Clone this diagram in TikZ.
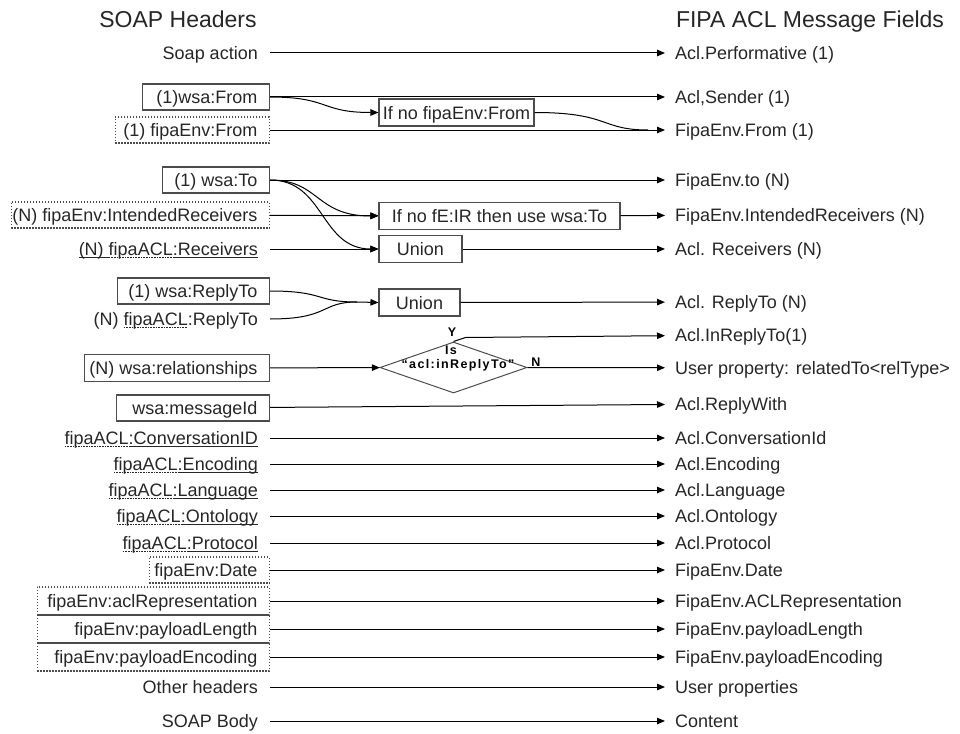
\documentclass[tikz,border=0pt]{standalone}
\usepackage{fontspec}
\setmainfont{Liberation Sans}
\newfontfamily\tagfont[LetterSpace=11]{Liberation Sans}
\usetikzlibrary{arrows.meta,shapes.geometric}

% solid and dashed underlines for linked header names
\newcommand\solidul[1]{\setbox0=\hbox{#1}\rlap{\raisebox{-2.6pt}{\rule{\wd0}{0.8pt}}}\box0}
\newcommand\dashul[1]{\setbox0=\hbox{#1}\rlap{\raisebox{-2.6pt}{\hbox to \wd0{\xleaders\hbox{\rule{1.6pt}{0.8pt}\kern1pt}\hfil}}}\box0}
% right-aligned label inside a box of fixed inner width
\newcommand\rightin[2]{\makebox[#1][r]{#2}}

\tikzset{
  lbl/.style={font=\fontsize{18}{20}\selectfont, text=black!85,
    text height=13pt, text depth=0pt, inner ysep=0pt, minimum height=26pt},
  lnode/.style={lbl, anchor=east, inner xsep=12pt},
  lbox/.style={lnode, draw=black!70, line width=1.1pt},
  ldot/.style={lbox, dash pattern=on 1.4pt off 1.6pt},
  rnode/.style={lbl, anchor=west, inner xsep=10pt},
  mbox/.style={lbl, draw=black!70, line width=1.1pt, inner xsep=4pt, minimum height=27pt},
  decision/.style={draw=black!70, line width=1pt, shape=diamond,
    minimum width=147pt, minimum height=51pt, inner sep=0pt},
  conn/.style={draw=black, line width=1pt},
  arr/.style={conn, -{Triangle[length=8pt,width=6.5pt]}},
  heading/.style={font=\fontsize{23}{26}\selectfont, text=black!85,
    text height=16pt, text depth=0pt, inner sep=0pt},
  tag/.style={font=\tagfont\bfseries\fontsize{12.5}{13}\selectfont, text=black,
    text height=9pt, text depth=0pt, inner sep=0pt},
}

\begin{document}
\begin{tikzpicture}[x=1pt,y=-1pt]
\useasboundingbox (0,0) rectangle (960,733);

% column headings
\node[heading] (hl) at (178,19.5) {SOAP Headers};
\node[heading] (hr) at (810,19.5) {FIPA ACL Message Fields};

% SOAP header side
\node[lnode] (sact)  at (270,53)  {Soap action};
\node[lbox] (wfrom) at (270,97) {\rightin{103pt}{(1)wsa:From}};
\node[ldot] (efrom) at (270,130) {\rightin{130pt}{(1) fipaEnv:From}};
\node[lbox] (wto) at (270,180) {\rightin{83pt}{(1) wsa:To}};
\node[ldot] (eir) at (270,215) {\rightin{234pt}{(N) fipaEnv:IntendedReceivers}};
\node[lnode] (arec) at (270,249) {\solidul{(N)\ }\dashul{fipaACL}\solidul{:Receivers}};
\node[lbox] (wreply) at (270,291) {\rightin{128pt}{(1) wsa:ReplyTo}};
\node[lnode] (areply) at (270,319) {(N) \dashul{fipaACL}:ReplyTo};
\node[lbox, minimum height=27pt] (wrel) at (270,368) {\rightin{161pt}{(N) wsa:relationships}};
\node[lbox] (wmid) at (270,408) {\rightin{129pt}{wsa:messageId}};
\node[lnode] (aconv) at (270,438) {\dashul{fipaACL}\solidul{:ConversationID}};
\node[lnode] (aenc)  at (270,464) {\dashul{fipaACL}\solidul{:Encoding}};
\node[lnode] (alang) at (270,490) {\dashul{fipaACL}\solidul{:Language}};
\node[lnode] (aont)  at (270,516) {\dashul{fipaACL}\solidul{:Ontology}};
\node[lnode] (aprot) at (270,543) {\dashul{fipaACL}\solidul{:Protocol}};
\node[ldot] (edate) at (270,570) {\rightin{96pt}{fipaEnv:Date}};
\node[ldot, minimum height=28pt] (erep) at (270,601) {\rightin{208pt}{fipaEnv:aclRepresentation}};
\node[ldot, minimum height=28pt] (elen) at (270,629) {\rightin{208pt}{fipaEnv:payloadLength}};
\node[ldot, minimum height=28pt] (eenc) at (270,657) {\rightin{208pt}{fipaEnv:payloadEncoding}};
\node[lnode] (other) at (270,687) {Other headers};
\node[lnode] (body)  at (270,721) {SOAP Body};

% ACL message side
\node[rnode] (rperf)  at (665,53)  {Acl.Performative (1)};
\node[rnode] (rsend)  at (665,97)  {Acl,Sender (1)};
\node[rnode] (rfrom)  at (665,130) {FipaEnv.From (1)};
\node[rnode] (rto)    at (665,180) {FipaEnv.to (N)};
\node[rnode] (rir)    at (665,215) {FipaEnv.IntendedReceivers (N)};
\node[rnode] (rrec)   at (665,249) {Acl. Receivers (N)};
\node[rnode] (rreply) at (665,302) {Acl. ReplyTo (N)};
\node[rnode] (rinrep) at (665,335) {Acl.InReplyTo(1)};
\node[rnode] (ruser)  at (665,368) {User property: relatedTo<relType>};
\node[rnode] (rwith)  at (665,404) {Acl.ReplyWith};
\node[rnode] (rconv)  at (665,438) {Acl.ConversationId};
\node[rnode] (renc)   at (665,464) {Acl.Encoding};
\node[rnode] (rlang)  at (665,490) {Acl.Language};
\node[rnode] (ront)   at (665,516) {Acl.Ontology};
\node[rnode] (rprot)  at (665,543) {Acl.Protocol};
\node[rnode] (rdate)  at (665,570) {FipaEnv.Date};
\node[rnode] (rrep)   at (665,601) {FipaEnv.ACLRepresentation};
\node[rnode] (rlen)   at (665,629) {FipaEnv.payloadLength};
\node[rnode] (renc2)  at (665,657) {FipaEnv.payloadEncoding};
\node[rnode] (rprops) at (665,687) {User properties};
\node[rnode] (rbody)  at (665,721) {Content};

% intermediate steps
\node[mbox] (nofrom) at (456.5,112.5) {If no fipaEnv:From};
\node[mbox, minimum width=241pt] (noir) at (499.5,216) {If no fE:IR then use wsa:To};
\node[mbox, minimum width=83pt] (union1) at (420.5,249) {Union};
\node[mbox, minimum width=81pt] (union2) at (419.5,302.5) {Union};
\node[decision] (dec) at (453.5,367.5) {};
\node[tag] (decis) at (451,350) {Is};
\node[tag] (decq)  at (458,364) {“acl:inReplyTo”};
\node[tag] (decy)  at (452,332) {Y};
\node[tag] (decn)  at (536,362) {N};

\coordinate (fromjoin) at (648,130);
\coordinate (replymerge) at (357,302);

% straight mappings
\draw[arr] (sact) -- (rperf);
\draw[arr] (wfrom) -- (rsend);
\draw[arr] (efrom) -- (rfrom);
\draw[arr] (wto) -- (rto);
\draw[arr] (eir) -- (noir);
\draw[arr] (noir) -- (rir);
\draw[arr] (arec) -- (union1);
\draw[arr] (union1) -- (rrec);
\draw[arr] (union2) -- (rreply);
\draw[arr] (wrel) -- (dec);
\draw[arr] (dec.east) -- (ruser);
\draw[arr] (dec.north) -- ++(12,-4) -- (rinrep);
\draw[arr] (wmid) -- (rwith);
\draw[arr] (aconv) -- (rconv);
\draw[arr] (aenc) -- (renc);
\draw[arr] (alang) -- (rlang);
\draw[arr] (aont) -- (ront);
\draw[arr] (aprot) -- (rprot);
\draw[arr] (edate) -- (rdate);
\draw[arr] (erep) -- (rrep);
\draw[arr] (elen) -- (rlen);
\draw[arr] (eenc) -- (renc2);
\draw[arr] (other) -- (rprops);
\draw[arr] (body) -- (rbody);

% conditional and merged mappings
\draw[arr] (wfrom.east) .. controls (330,97) and (320,112.5) .. (nofrom.west);
\draw[conn] (nofrom.east) .. controls (610,112.5) and (600,130) .. (fromjoin);
\draw[arr] (wto.east) .. controls (320,180) and (315,216) .. (noir.west);
\draw[arr] (wto.east) .. controls (325,180) and (320,249) .. (union1.west);
\draw[conn] (wreply.east) .. controls (325,291) and (315,302) .. (replymerge);
\draw[conn] (areply.east) .. controls (330,319) and (320,302) .. (replymerge);
\draw[arr] (replymerge) -- (union2.west);
\end{tikzpicture}
\end{document}
